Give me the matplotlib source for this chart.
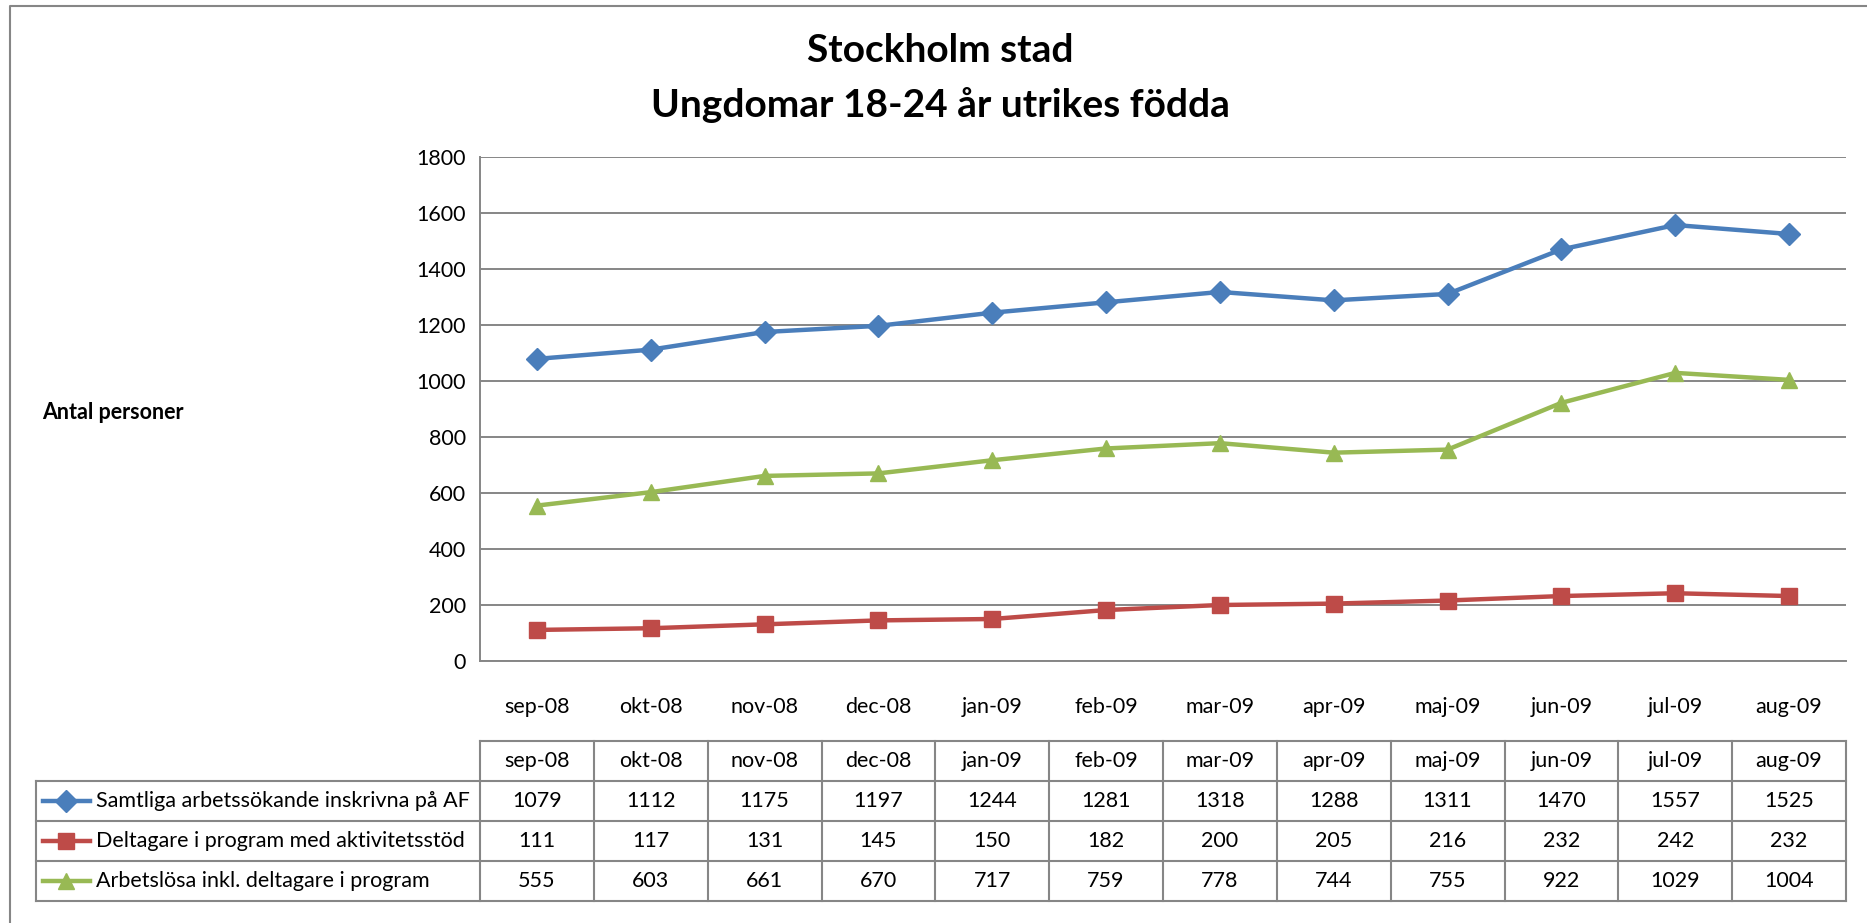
import numpy as np
import matplotlib.pyplot as plt
from matplotlib.lines import Line2D

months = ['sep-08', 'okt-08', 'nov-08', 'dec-08', 'jan-09', 'feb-09',
          'mar-09', 'apr-09', 'maj-09', 'jun-09', 'jul-09', 'aug-09']
samtliga = [1079, 1112, 1175, 1197, 1244, 1281, 1318, 1288, 1311, 1470, 1557, 1525]
deltagare = [111, 117, 131, 145, 150, 182, 200, 205, 216, 232, 242, 232]
arbetslosa = [555, 603, 661, 670, 717, 759, 778, 744, 755, 922, 1029, 1004]
series_names = ['Samtliga arbetssökande inskrivna på AF',
                'Deltagare i program med aktivitetsstöd',
                'Arbetslösa inkl. deltagare i program']

plt.rcParams['font.family'] = ['Lato', 'DejaVu Sans']

W, H = 1867, 923
grid_col = '#868686'
fig = plt.figure(figsize=(W / 100, H / 100), dpi=100)


def box(l, t, r, b):
    return [l / W, 1 - b / H, (r - l) / W, (b - t) / H]


# outer frame (left and top edges visible)
fig.add_artist(Line2D([10 / W, 10 / W, 1], [0, 1 - 6 / H, 1 - 6 / H],
                      color=grid_col, lw=1.5))

fig.text(940 / W, 1 - 51 / H, 'Stockholm stad', ha='center', va='center',
         fontsize=28, fontweight='bold')
fig.text(940 / W, 1 - 105 / H, 'Ungdomar 18-24 år utrikes födda', ha='center',
         va='center', fontsize=28, fontweight='bold')
fig.text(42 / W, 1 - 412 / H, 'Antal personer', ha='left', va='center',
         fontsize=15.5, fontweight='bold')

ax = fig.add_axes(box(480, 157, 1846, 661))
x = np.arange(len(months))
styles = [(samtliga, '#4A7EBB', 'D', 11),
          (deltagare, '#BE4B48', 's', 11),
          (arbetslosa, '#98B954', '^', 12)]
for vals, col, mk, ms in styles:
    ax.plot(x, vals, color=col, lw=3.2, marker=mk, ms=ms, mec=col, mfc=col,
            zorder=3, clip_on=False)

ax.set_xlim(-0.5, 11.5)
ax.set_ylim(0, 1800)
ax.set_yticks(range(0, 1801, 200))
ax.set_xticks(x)
ax.set_xticklabels(months)
ax.grid(axis='y', color=grid_col, lw=1.4)
ax.set_axisbelow(True)
ax.tick_params(axis='y', length=0, labelsize=15.5, pad=10)
ax.tick_params(axis='x', length=0, labelsize=15.5, pad=26)
for s in ['top', 'right']:
    ax.spines[s].set_visible(False)
for s in ['left', 'bottom']:
    ax.spines[s].set_color(grid_col)
    ax.spines[s].set_linewidth(1.4)

# data table below the chart
tab = fig.add_axes(box(480, 741, 1846, 901))
tab.set_xlim(-0.5, 11.5)
tab.set_ylim(4, 0)
tab.axis('off')
xl = -4.40
n = len(months)
for r in range(5):
    x0 = -0.5 if r == 0 else xl
    tab.plot([x0, n - 0.5], [r, r], color=grid_col, lw=1.5, clip_on=False)
for i in range(n + 1):
    tab.plot([i - 0.5, i - 0.5], [0, 4], color=grid_col, lw=1.5, clip_on=False)
tab.plot([xl, xl], [1, 4], color=grid_col, lw=1.5, clip_on=False)

for i, m in enumerate(months):
    tab.text(i, 0.5, m, ha='center', va='center', fontsize=15.5)
for r, ((vals, col, mk, ms), name) in enumerate(zip(styles, series_names)):
    yy = r + 1.5
    for i, v in enumerate(vals):
        tab.text(i, yy, str(v), ha='center', va='center', fontsize=15.5)
    tab.plot([-4.34, -3.93], [yy, yy], color=col, lw=3.2, clip_on=False)
    tab.plot([-4.135], [yy], color=col, marker=mk, ms=ms, mec=col, clip_on=False)
    tab.text(-3.87, yy, name, ha='left', va='center', fontsize=15.5)

fig.savefig('out.png', dpi=100)
